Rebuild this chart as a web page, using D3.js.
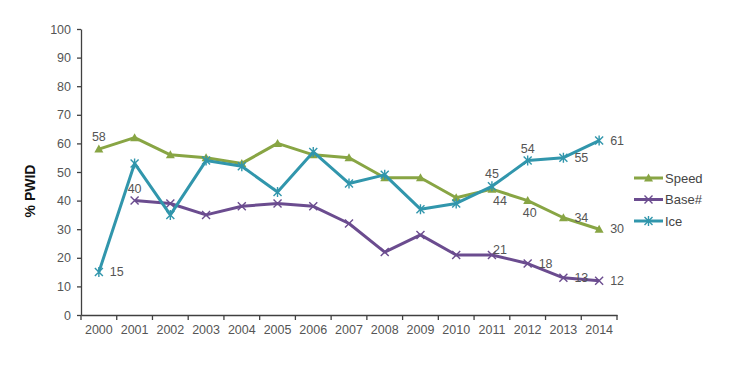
<!DOCTYPE html>
<html><head><meta charset="utf-8">
<script src="https://cdn.jsdelivr.net/npm/d3@7"></script>
<style>body{margin:0;background:#fff}svg{display:block}text{font-family:"Liberation Sans",Arial,sans-serif}</style>
</head><body><svg id="c" width="754" height="366"></svg>
<script>
const years = [2000,2001,2002,2003,2004,2005,2006,2007,2008,2009,2010,2011,2012,2013,2014];
const speed = [58,62,56,55,53,60,56,55,48,48,41,44,40,34,30];
const base  = [null,40,39,35,38,39,38,32,22,28,21,21,18,13,12];
const ice   = [15,53,35,54,52,43,57,46,49,37,39,45,54,55,61];
const yTicks = [0,10,20,30,40,50,60,70,80,90,100];
const seriesNames = ["Speed","Base#","Ice"];
// labelled points: [series index, year, placement]
const labels = [
  [0,2000,"above"],[2,2000,"right"],[1,2001,"above"],
  [2,2011,"above"],[0,2011,"belowR"],[1,2011,"aboveR"],
  [2,2012,"above"],[0,2012,"below"],[1,2012,"right"],
  [2,2013,"right"],[0,2013,"right"],[1,2013,"right"],
  [2,2014,"right"],[0,2014,"right"],[1,2014,"right"]
];

const colors = ["#88a544","#6b4c8f","#3196ac"];
const data = [speed, base, ice];
const svg = d3.select("#c");
const x = d3.scaleBand().domain(years).range([81,617]);
const y = d3.scaleLinear().domain([0,100]).range([315,29]);
const cx = yr => x(yr) + x.bandwidth()/2;

// axes
const gy = svg.append("g").attr("transform","translate(81,0)")
  .call(d3.axisLeft(y).tickValues(yTicks).tickSize(4).tickSizeOuter(0).tickPadding(6));
const gx = svg.append("g").attr("transform","translate(0,315)")
  .call(d3.axisBottom(x).tickSize(0).tickPadding(10));
[gy,gx].forEach(g=>{
  g.select(".domain").attr("stroke","#404040").attr("stroke-width",1.3);
  g.selectAll(".tick line").attr("stroke","#404040").attr("stroke-width",1.3);
  g.selectAll("text").attr("fill","#555").style("font-size","12.5px").style("font-family","Liberation Sans, Arial, sans-serif");
});
// x band boundary ticks
const bounds = years.map(yr=>x(yr)).concat([x(years[years.length-1])+x.bandwidth()]);
svg.append("g").selectAll("line").data(bounds).join("line")
  .attr("x1",d=>d).attr("x2",d=>d).attr("y1",315).attr("y2",320)
  .attr("stroke","#404040").attr("stroke-width",1.3);

svg.append("text").attr("transform","translate(30,191) rotate(-90)")
  .attr("text-anchor","middle").attr("dominant-baseline","central")
  .style("font-size","14px").style("font-weight","600").attr("fill","#111").text("% PWID");

function marker(g, i, px, py){
  const c = colors[i];
  if(i===0){
    g.append("path").attr("d",`M${px-4.5},${py+3.5}L${px+4.5},${py+3.5}L${px},${py-4.5}Z`).attr("fill",c);
  } else {
    const s=4;
    g.append("path").attr("d",`M${px-s},${py-s}L${px+s},${py+s}M${px-s},${py+s}L${px+s},${py-s}`+(i===2?`M${px},${py-s-1}L${px},${py+s+1}`:""))
      .attr("stroke",c).attr("stroke-width",1.4).attr("fill","none");
  }
}

const line = d3.line().defined(d=>d.v!=null).x(d=>cx(d.yr)).y(d=>y(d.v));
data.forEach((arr,i)=>{
  const pts = years.map((yr,k)=>({yr,v:arr[k]}));
  svg.append("path").datum(pts).attr("d",line).attr("fill","none")
    .attr("stroke",colors[i]).attr("stroke-width",3).attr("stroke-linejoin","round");
  const g = svg.append("g");
  pts.filter(p=>p.v!=null).forEach(p=>marker(g,i,cx(p.yr),y(p.v)));
});

labels.forEach(([si,yr,pos])=>{
  const v = data[si][years.indexOf(yr)];
  let px = cx(yr), py = y(v), anchor="middle";
  if(pos==="above"){ py-=12; }
  else if(pos==="below"){ py+=12; px+=2; }
  else if(pos==="belowR"){ py+=12; px+=8; }
  else if(pos==="aboveR"){ py-=5; px+=8; }
  else if(pos==="right"){ px+=11; anchor="start"; }
  svg.append("text").attr("x",px).attr("y",py).attr("text-anchor",anchor)
    .attr("dominant-baseline","central").style("font-size","12.5px").attr("fill","#555").text(v);
});

// legend
seriesNames.forEach((n,i)=>{
  const ly = 178 + i*21.5;
  const g = svg.append("g");
  g.append("line").attr("x1",634).attr("x2",663).attr("y1",ly).attr("y2",ly)
    .attr("stroke",colors[i]).attr("stroke-width",3);
  marker(g,i,648.5,ly);
  g.append("text").attr("x",665).attr("y",ly).attr("dominant-baseline","central")
    .style("font-size","13px").attr("fill","#444").text(n);
});
</script></body></html>
